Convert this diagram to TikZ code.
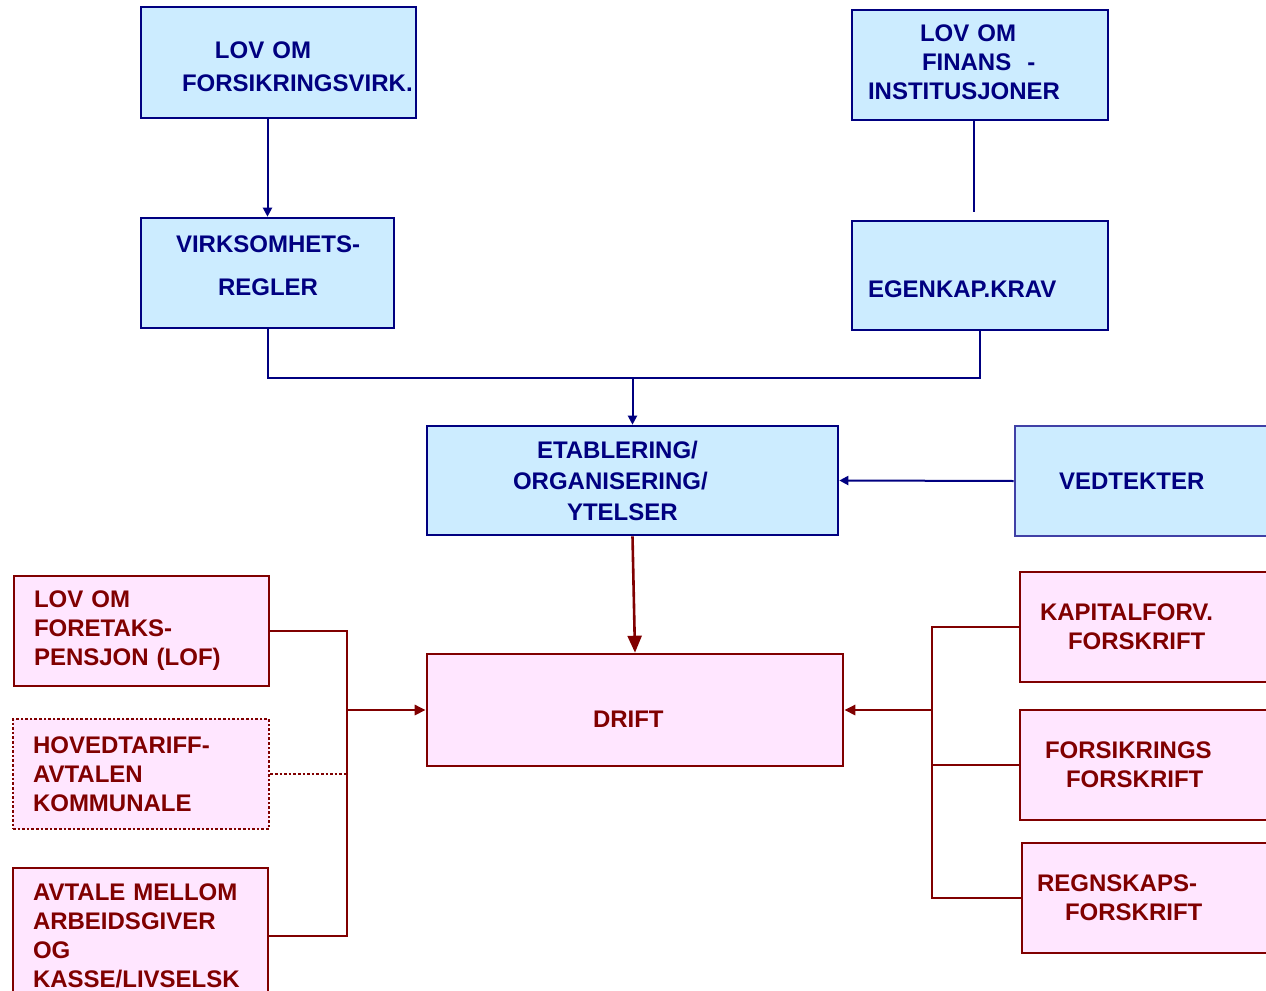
\documentclass[tikz,border=0pt]{standalone}
\usepackage{fontspec}
\setmainfont{Liberation Sans}
\usetikzlibrary{arrows.meta}
\definecolor{lovblue}{HTML}{000080}
\definecolor{lovfill}{HTML}{CCECFF}
\definecolor{vedblue}{rgb}{0.25,0.25,0.65}
\definecolor{driftred}{HTML}{800000}
\definecolor{driftfill}{HTML}{FFE6FF}
\hyphenpenalty=10000
\exhyphenpenalty=10000

\begin{document}
\begin{tikzpicture}[x=0.5pt,y=-0.5pt,
        txt/.style={align=left,inner ysep=2pt,
                    font=\fontsize{12}{14.5}\selectfont\bfseries},
        bbox/.style={txt,draw=lovblue,fill=lovfill,text=lovblue,line width=1.3pt},
        pbox/.style={txt,draw=driftred,fill=driftfill,text=driftred,line width=1.3pt},
        bline/.style={draw=lovblue,line width=1pt},
        rline/.style={draw=driftred,line width=1.3pt},
        arr/.style={-{Triangle[length=4.5pt,width=4.5pt]}},
        rarr/.style={-{Triangle[length=5.5pt,width=5pt]}},
        bigarr/.style={-{Triangle[length=8.5pt,width=7pt]}}]
      \useasboundingbox (0,0) rectangle (1266,991);
      % laws and rules
      \node[bbox,inner xsep=20.5pt,text width=96.5pt,minimum height=55.5pt] (forsvirk) at (278.5,62.5)
        {\rule{0pt}{12.8pt}\hspace*{16.5pt}LOV~OM\\[2pt]FORSIKRINGSVIRK.};
      \node[bbox,inner xsep=8pt,text width=112pt,minimum height=55pt] (finans) at (980,65)
        {\hspace*{26pt}LOV~OM\\\hspace*{27pt}FINANS~~-\\INSTITUSJONER\rule[-3pt]{0pt}{0pt}};
      \node[bbox,inner xsep=17.5pt,text width=91.5pt,minimum height=55pt] (virks) at (267.5,273)
        {VIRKSOMHETS-\\[7pt]\hspace*{21pt}REGLER\rule[-7pt]{0pt}{0pt}};
      \node[bbox,inner xsep=8pt,text width=112pt,minimum height=54.5pt] (egenkap) at (980,275.5)
        {\mbox{}\\[8pt]EGENKAP.KRAV};
      \node[bbox,inner xsep=43pt,text width=119.5pt,minimum height=54.5pt] (etabl) at (632.5,480.5)
        {\hspace*{12pt}ETABLERING/\\[1pt]ORGANISERING/\\[1pt]\hspace*{27pt}YTELSER};
      \node[bbox,draw=vedblue,inner xsep=22pt,text width=86pt,minimum height=55pt] (vedtekter) at (1145,481)
        {VEDTEKTER};
      % operations
      \node[pbox,inner xsep=83pt,text width=42pt,minimum height=56pt] (drift) at (635,710)
        {\rule{0pt}{17.6pt}DRIFT};
      \node[pbox,inner xsep=10pt,text width=107.5pt,minimum height=55pt] (lof) at (141.5,631)
        {LOV~OM\\FORETAKS-\\PENSJON~(LOF)};
      \node[pbox,densely dotted,inner xsep=10pt,text width=108pt,minimum height=55pt] (hovedt) at (141,774)
        {HOVEDTARIFF-\\AVTALEN\\KOMMUNALE};
      \node[pbox,inner xsep=10pt,text width=107.5pt,minimum height=68pt] (avtale) at (140.5,936)
        {AVTALE~MELLOM\\ARBEIDSGIVER\\OG\\KASSE/LIVSELSK};
      \node[pbox,inner xsep=10pt,text width=108pt,minimum height=55pt] (kapital) at (1148,627)
        {KAPITALFORV.\\\hspace*{14pt}FORSKRIFT};
      \node[pbox,inner xsep=12.5pt,text width=103pt,minimum height=55pt] (forsforsk) at (1148,765)
        {FORSIKRINGS\\\hspace*{10.5pt}FORSKRIFT};
      \node[pbox,inner xsep=7.5pt,text width=113pt,minimum height=55pt] (regnskap) at (1150,898)
        {REGNSKAPS-\\\hspace*{14pt}FORSKRIFT};
      % blue connectors
      \coordinate (join) at (632.5,377.5);
      \draw[bline,arr] (virks.north |- forsvirk.south) -- (virks.north);
      \draw[bline] ([xshift=-3pt]finans.south) -- ([xshift=-3pt,yshift=4pt]egenkap.north);
      \draw[bline] (virks.south) |- (join) -| (egenkap.south);
      \draw[bline,arr] (join) -- (etabl.north);
      \draw[bline,arr] (vedtekter.west) -- (etabl.east);
      % red connectors
      \draw[rline,bigarr] (etabl.south) -- (drift.north);
      \coordinate (lbus) at (347,710);
      \draw[rline] (lof.east) -| (lbus) |- (avtale.east);
      \draw[rline,densely dotted] (hovedt.east) -- (hovedt.east -| lbus);
      \draw[rline,rarr] (lbus) -- (drift.west);
      \coordinate (rbus) at (932,710);
      \draw[rline] (kapital.west) -| (rbus) |- (regnskap.west);
      \draw[rline] (forsforsk.west) -| (rbus);
      \draw[rline,rarr] (rbus) -- (drift.east);
\end{tikzpicture}
\end{document}
